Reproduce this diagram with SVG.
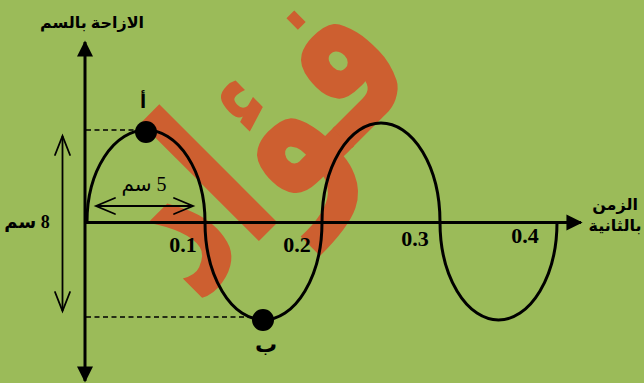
<svg xmlns="http://www.w3.org/2000/svg" width="644" height="383" viewBox="0 0 644 383">
  <style>
    .bg { fill: #9BBB59; }
    .wm { fill: #CD5F30; font-family: "DejaVu Sans", sans-serif; font-weight: bold; }
    .axis { stroke: #000; stroke-width: 3; fill: none; }
    .wave { stroke: #000; stroke-width: 3; fill: none; }
    .dash { stroke: #000; stroke-width: 1.3; stroke-dasharray: 5 3.5; fill: none; }
    .dim { stroke: #000; stroke-width: 1.8; fill: none; }
    .head { stroke: #000; stroke-width: 1.8; fill: none; stroke-linecap: round; stroke-linejoin: miter; }
    .lbl { font-family: "Liberation Serif", "DejaVu Sans", serif; font-weight: bold; fill: #000; text-anchor: middle; }
    .ar { font-family: "Liberation Serif", "DejaVu Sans", serif; font-weight: bold; fill: #000; text-anchor: middle; }
    .dot { fill: #000; }
  </style>
  <defs>
    <marker id="tri" viewBox="0 0 10 10" refX="9" refY="5" markerWidth="5.4" markerHeight="5.4" markerUnits="strokeWidth" orient="auto">
      <path d="M0,0 L10,5 L0,10 z" fill="#000"/>
    </marker>
  </defs>
  <rect class="bg" x="0" y="0" width="644" height="383"/>

  <g id="watermark">
    <text class="wm" transform="translate(309,191) rotate(-45) scale(0.75,1.1)" x="0" y="0" font-size="200" text-anchor="middle">فؤاد</text>
  </g>

  <g id="connectors">
    <line class="axis" x1="85" y1="222" x2="85" y2="42" marker-end="url(#tri)"/>
    <line class="axis" x1="85" y1="222" x2="85" y2="381" marker-end="url(#tri)"/>
    <line class="axis" x1="85" y1="222.5" x2="581" y2="222.5" marker-end="url(#tri)"/>
    <line class="dash" x1="86" y1="130" x2="136" y2="130"/>
    <line class="dash" x1="86" y1="317" x2="253" y2="317"/>
    <line class="dim" x1="62.5" y1="136" x2="62.5" y2="311"/>
    <path class="head" d="M55,155 L62.5,136 L70,155"/>
    <path class="head" d="M55,292 L62.5,311 L70,292"/>
    <line class="dim" x1="96" y1="206" x2="193" y2="206"/>
    <path class="head" d="M115,198 L96,206 L115,214"/>
    <path class="head" d="M174,198 L193,206 L174,214"/>
  </g>

  <g id="wave">
    <path class="wave" d="M87,222 A59,92 0 0 1 205,222 A58.5,98 0 0 0 322,222 A59,99 0 0 1 440,222 A58.5,98 0 0 0 557,222"/>
  </g>

  <g id="point-a">
    <circle class="dot" cx="146" cy="132" r="11"/>
    <text class="ar" x="143" y="108" font-size="18">أ</text>
  </g>
  <g id="point-b">
    <circle class="dot" cx="263" cy="320" r="11"/>
    <text class="ar" x="266" y="352" font-size="22">ب</text>
  </g>

  <g id="y-title">
    <text class="ar" x="92" y="28" font-size="16">الازاحة بالسم</text>
  </g>
  <g id="x-title">
    <text class="ar" x="615" y="210" font-size="16">الزمن</text>
    <text class="ar" x="615" y="231" font-size="16">بالثانية</text>
  </g>

  <g id="label-8cm">
    <text class="ar" x="27" y="228" font-size="18" style="direction:rtl">8 سم</text>
  </g>
  <g id="label-5cm">
    <text x="144" y="191" font-size="20" font-family="Liberation Serif, DejaVu Sans, serif" text-anchor="middle" style="direction:rtl">5 سم</text>
  </g>

  <g id="ticks">
    <text class="lbl" x="183" y="252" font-size="22">0.1</text>
    <text class="lbl" x="297" y="252" font-size="22">0.2</text>
    <text class="lbl" x="415" y="246" font-size="22">0.3</text>
    <text class="lbl" x="525" y="243" font-size="22">0.4</text>
  </g>
</svg>
